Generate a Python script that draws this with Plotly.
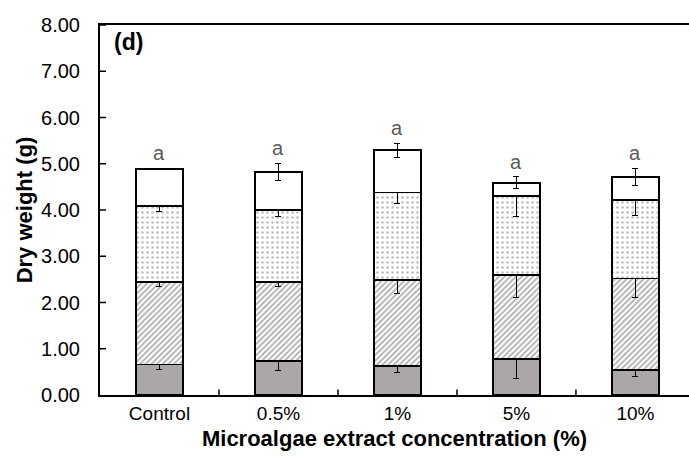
import plotly.graph_objects as go

# Treatments on the x axis
categories = ["Control", "0.5%", "1%", "5%", "10%"]

# Dry weight of each stacked component (g), bottom to top
seg1 = [0.66, 0.73, 0.63, 0.77, 0.54]
seg2 = [1.78, 1.71, 1.86, 1.82, 1.98]
seg3 = [1.65, 1.56, 1.89, 1.71, 1.70]
seg4 = [0.80, 0.82, 0.91, 0.29, 0.49]

# Standard errors for each component
err1 = [0.11, 0.19, 0.14, 0.42, 0.13]
err2 = [0.10, 0.10, 0.30, 0.48, 0.42]
err3 = [0.12, 0.13, 0.24, 0.43, 0.34]
err4 = [0.01, 0.19, 0.15, 0.13, 0.19]

# Significance letters above each bar
letters = ["a", "a", "a", "a", "a"]

y_ticks = [0, 1, 2, 3, 4, 5, 6, 7, 8]

FONT = "Liberation Sans, Arial, sans-serif"

styles = [
    dict(color="#aba7a6", pattern=None),
    dict(color="white", pattern=dict(shape="/", size=4, solidity=0.45, fgcolor="#5a5a5a", bgcolor="white")),
    dict(color="white", pattern=dict(shape=".", size=5, solidity=0.2, fgcolor="#7a7a7a", bgcolor="white")),
    dict(color="white", pattern=None),
]

fig = go.Figure()
for vals, errs, st in zip([seg1, seg2, seg3, seg4], [err1, err2, err3, err4], styles):
    marker = dict(color=st["color"], line=dict(color="black", width=1.8))
    if st["pattern"] is not None:
        marker["pattern"] = st["pattern"]
    fig.add_trace(go.Bar(
        x=categories, y=vals, width=0.4, marker=marker,
        error_y=dict(type="data", array=errs, visible=True, color="black", thickness=1, width=3),
        showlegend=False,
    ))

totals = [a + b + c + d for a, b, c, d in zip(seg1, seg2, seg3, seg4)]
for cat, tot, e, lab in zip(categories, totals, err4, letters):
    fig.add_annotation(x=cat, y=tot + e, text=lab, showarrow=False, yanchor="middle", yshift=15,
                       font=dict(family=FONT, size=20, color="#595959"))

fig.add_annotation(xref="paper", yref="paper", x=0.02, y=0.954, xanchor="left", yanchor="middle",
                   text="<b>(d)</b>", showarrow=False, font=dict(family=FONT, size=23, color="black"))

fig.update_layout(
    barmode="stack",
    width=689, height=463,
    margin=dict(l=100, r=0, t=25, b=68),
    plot_bgcolor="white", paper_bgcolor="white",
    xaxis=dict(
        range=[-0.5, 4.45], showline=True, linecolor="black", linewidth=2, mirror=True,
        ticks="", tickfont=dict(family=FONT, size=19, color="black"),
        title=dict(text="<b>Microalgae extract concentration (%)</b>", font=dict(family=FONT, size=22, color="black"), standoff=8),
        showgrid=False,
    ),
    yaxis=dict(
        range=[0, 8], tickvals=y_ticks, ticktext=[f"{v:.2f}" for v in y_ticks],
        showline=True, linecolor="black", linewidth=2,
        # invisible outside ticks keep the labels clear of the axis line
        ticks="outside", ticklen=14, tickcolor="rgba(0,0,0,0)",
        tickfont=dict(family=FONT, size=20, color="black"),
        title=dict(text="<b>Dry weight (g)</b>", font=dict(family=FONT, size=22, color="black"), standoff=2),
        showgrid=False, zeroline=False,
    ),
)

# Inward y ticks
for v in y_ticks[1:]:
    fig.add_shape(type="line", xref="paper", yref="y", x0=0, x1=6 / 589, y0=v, y1=v,
                  line=dict(color="black", width=1.5))

# Category divider ticks along the x axis
for i in range(len(categories) - 1):
    fig.add_shape(type="line", xref="x", yref="paper", x0=i + 0.5, x1=i + 0.5, y0=0, y1=0.015,
                  line=dict(color="black", width=1.5))

fig.write_html("out.html")
